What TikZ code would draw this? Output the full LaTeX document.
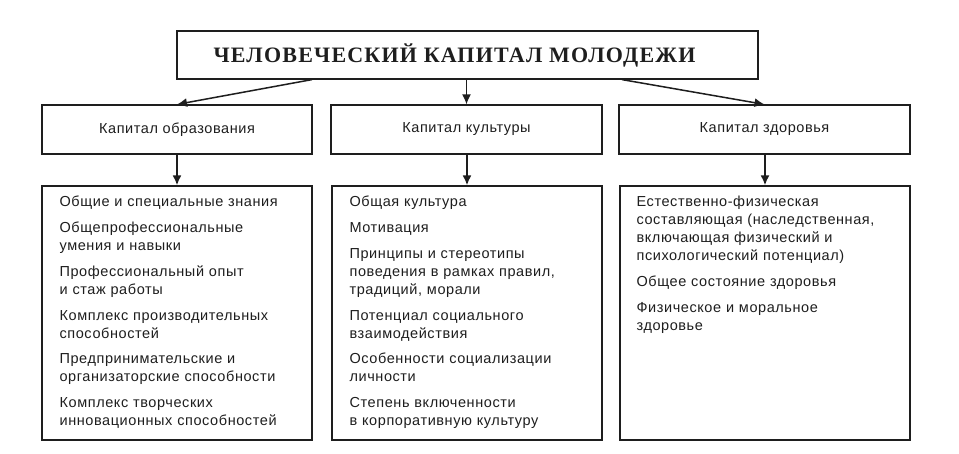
\documentclass[tikz,border=0pt]{standalone}
\usepackage{fontspec}
\setmainfont{Liberation Sans}
\newfontfamily\titlefont[LetterSpace=5.5]{Liberation Serif}
\newfontfamily\bodyfont[LetterSpace=4]{Liberation Sans}
\usetikzlibrary{arrows.meta,calc}
\definecolor{ink}{HTML}{1E1E1E}
\tikzset{
  box/.style={draw=ink, line width=1.2pt, fill=white, inner sep=0pt, rectangle, text=ink},
  labelfont/.style={font=\bodyfont\fontsize{14.5}{18}\selectfont},
  listtext/.style={inner sep=0pt, align=left, text width=262pt, text=ink,
    font=\bodyfont\fontsize{14.5}{18}\selectfont},
  arr/.style={-{Latex[length=10pt,width=9pt]}, line width=1.5pt, draw=ink},
  thickarr/.style={arr, line width=1.9pt}
}
\begin{document}
\begin{tikzpicture}[x=1pt,y=-1pt]
\useasboundingbox (0,0) rectangle (959,453);
\fill[white] (0,0) rectangle (959,453);

\node[box, minimum width=581pt, minimum height=48pt,
  font=\titlefont\bfseries\fontsize{22}{22}\selectfont] (title) at (467.5,55)
  {ЧЕЛОВЕЧЕСКИЙ КАПИТАЛ МОЛОДЕЖИ\hspace*{26pt}};

\node[box, labelfont, minimum width=270pt, minimum height=49pt] (edu) at (177,129.5) {Капитал образования};
\node[box, labelfont, minimum width=271pt, minimum height=49pt] (culture) at (466.5,129.5) {Капитал культуры};
\node[box, labelfont, minimum width=291pt, minimum height=49pt] (health) at (764.5,129.5) {Капитал здоровья};

\node[box, minimum width=270pt, minimum height=254pt] (eduList) at (177,313) {};
\node[box, minimum width=270pt, minimum height=254pt] (culList) at (467,313) {};
\node[box, minimum width=290pt, minimum height=254pt] (healthList) at (765,313) {};

\node[listtext, anchor=north west] (eduText) at ([xshift=18pt,yshift=-8.4pt]eduList.north west)
{\strut Общие и специальные знания\\[7.8pt]
Общепрофессиональные\\ умения и навыки\\[7.8pt]
Профессиональный опыт\\ и стаж работы\\[7.8pt]
Комплекс производительных\\ способностей\\[7.8pt]
Предпринимательские и\\ организаторские способности\\[7.8pt]
Комплекс творческих\\ инновационных способностей};

\node[listtext, anchor=north west] (culText) at ([xshift=18pt,yshift=-8.4pt]culList.north west)
{\strut Общая культура\\[7.8pt]
Мотивация\\[7.8pt]
Принципы и стереотипы\\ поведения в рамках правил,\\ традиций, морали\\[7.8pt]
Потенциал социального\\ взаимодействия\\[7.8pt]
Особенности социализации\\ личности\\[7.8pt]
Степень включенности\\ в корпоративную культуру};

\node[listtext, anchor=north west] (healthText) at ([xshift=17pt,yshift=-8.4pt]healthList.north west)
{\strut Естественно-физическая\\ составляющая (наследственная,\\ включающая физический и\\ психологический потенциал)\\[7.8pt]
Общее состояние здоровья\\[7.8pt]
Физическое и моральное\\ здоровье};

\draw[arr] ([xshift=-155.5pt]title.south) -- (edu.north);
\draw[arr] (title.south -| culture.north) -- (culture.north);
\draw[arr] ([xshift=154.5pt]title.south) -- (health.north);

\draw[thickarr] (edu.south) -- (eduList.north);
\draw[thickarr] (culture.south -| culList.north) -- (culList.north);
\draw[thickarr] (health.south -| healthList.north) -- (healthList.north);
\end{tikzpicture}
\end{document}
